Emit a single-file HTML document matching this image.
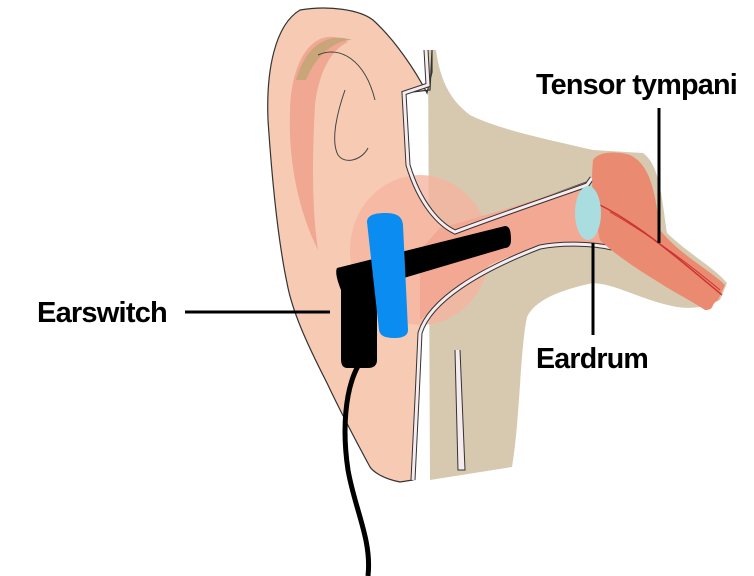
<!DOCTYPE html>
<html><head><style>html,body{margin:0;padding:0;background:#fff}svg{display:block}</style></head>
<body>
<svg width="754" height="576" viewBox="0 0 754 576" xmlns="http://www.w3.org/2000/svg">
<rect width="754" height="576" fill="#fff"/>
<!-- tan bone -->
<path d="M428,50 L436,50 C440,80 450,100 470,115 C500,130 550,140 593,150 L643,153 C660,165 662,200 667,233 C690,255 715,268 727,283 L720,300 C700,310 685,308 677,307 C640,300 620,285 593,283 C560,290 535,300 527,317 C520,350 520,420 512,467 L430,480 Z" fill="#d7c9af"/>
<!-- ear outer -->
<path d="M300,10 C330,5 360,10 373,20 C395,40 415,70 427,93 L432,72 L432,50 L430,90 L404,93 L408,160 C420,205 440,225 455,230 C500,215 550,195 587,182 L610,247 C580,243 560,243 540,247 C480,270 430,300 420,333 C418,380 415,440 413,480 L400,482 C380,478 372,470 370,467 C350,430 335,400 327,383 C305,340 292,310 287,283 C278,240 272,180 268,120 C266,70 275,25 300,10 Z" fill="#f7cbb3" stroke="#333" stroke-width="1.2"/>
<!-- helix inner -->
<path d="M290,110 C292,50 320,25 348,42 C335,48 320,65 315,105 C312,160 312,210 318,250 C298,210 288,160 290,110 Z" fill="#f0a893" />
<path d="M296,80 C306,45 328,32 352,40 C335,40 316,55 306,80 Z" fill="#c9a57a"/>
<path d="M318,55 C340,45 365,60 375,100" fill="none" stroke="#444" stroke-width="1"/>
<path d="M345,90 C338,110 330,140 338,155 C345,165 362,160 368,148" fill="none" stroke="#444" stroke-width="1"/>
<!-- canal pink glow -->
<ellipse cx="420" cy="250" rx="70" ry="75" fill="#f5b4a0" opacity="0.8"/>
<path d="M440,228 C500,212 550,195 587,182 L610,247 C560,240 520,250 490,265 L420,320 L420,250 Z" fill="#f3a893"/>
<!-- bone white boundaries -->
<path d="M426,50 L428,85 L404,93 L408,165 C420,205 440,225 455,232 C500,215 550,198 587,185 L592,178" fill="none" stroke="#333" stroke-width="5"/>
<path d="M426,50 L428,85 L404,93 L408,165 C420,205 440,225 455,232 C500,215 550,198 587,185 L592,178" fill="none" stroke="#f6ecef" stroke-width="3"/>
<path d="M612,248 C590,243 560,243 540,247 C480,270 430,300 420,333 C418,380 415,440 413,480" fill="none" stroke="#333" stroke-width="5"/>
<path d="M612,248 C590,243 560,243 540,247 C480,270 430,300 420,333 C418,380 415,440 413,480" fill="none" stroke="#f6ecef" stroke-width="3"/>
<path d="M455,350 L458,470 L465,470 L460,350" fill="#f6ecef" stroke="#333" stroke-width="1"/>
<!-- tensor tympani -->
<path d="M593,160 C600,150 620,152 630,155 C650,165 655,190 660,230 C680,255 710,270 725,285 L718,300 C710,305 715,310 705,310 C690,300 670,290 660,283 C630,265 610,250 600,240 C595,215 590,190 593,160 Z" fill="#ea8a70"/>
<path d="M600,205 C640,225 680,260 722,295" stroke="#c33" stroke-width="1.5" fill="none"/>
<path d="M610,212 C650,235 690,265 720,290" stroke="#c33" stroke-width="1" fill="none"/>
<!-- eardrum -->
<ellipse cx="588" cy="213" rx="13" ry="27" fill="#a9dde0"/>
<!-- black device -->
<path d="M337,268 L505,226 C510,226 511,232 511,240 C511,246 508,248 505,248 L380,285 L377,300 L377,360 C377,366 373,368 368,368 L348,368 C342,368 341,364 341,358 L341,290 C337,280 335,272 337,268 Z" fill="#000"/>
<path d="M358,366 C345,390 342,430 348,470 C355,510 372,540 368,576" fill="none" stroke="#000" stroke-width="5"/>
<!-- blue pad -->
<path d="M367,222 C367,215 375,213 385,213 C398,213 402,217 403,225 L408,330 C408,336 402,338 395,338 C385,338 380,336 379,330 Z" fill="#0a8cf0"/>
<!-- labels -->
<g font-family="Liberation Sans, sans-serif" font-weight="bold" font-size="29" fill="#000" letter-spacing="-0.8">
<text x="37" y="322" textLength="130" lengthAdjust="spacingAndGlyphs">Earswitch</text>
<text x="536" y="94" textLength="201" lengthAdjust="spacingAndGlyphs">Tensor tympani</text>
<text x="536" y="368" textLength="112" lengthAdjust="spacingAndGlyphs">Eardrum</text>
</g>
<line x1="185" y1="312" x2="330" y2="312" stroke="#000" stroke-width="3"/>
<line x1="659" y1="108" x2="659" y2="243" stroke="#000" stroke-width="3"/>
<line x1="593" y1="243" x2="593" y2="335" stroke="#000" stroke-width="3"/>
</svg>
</body></html>
